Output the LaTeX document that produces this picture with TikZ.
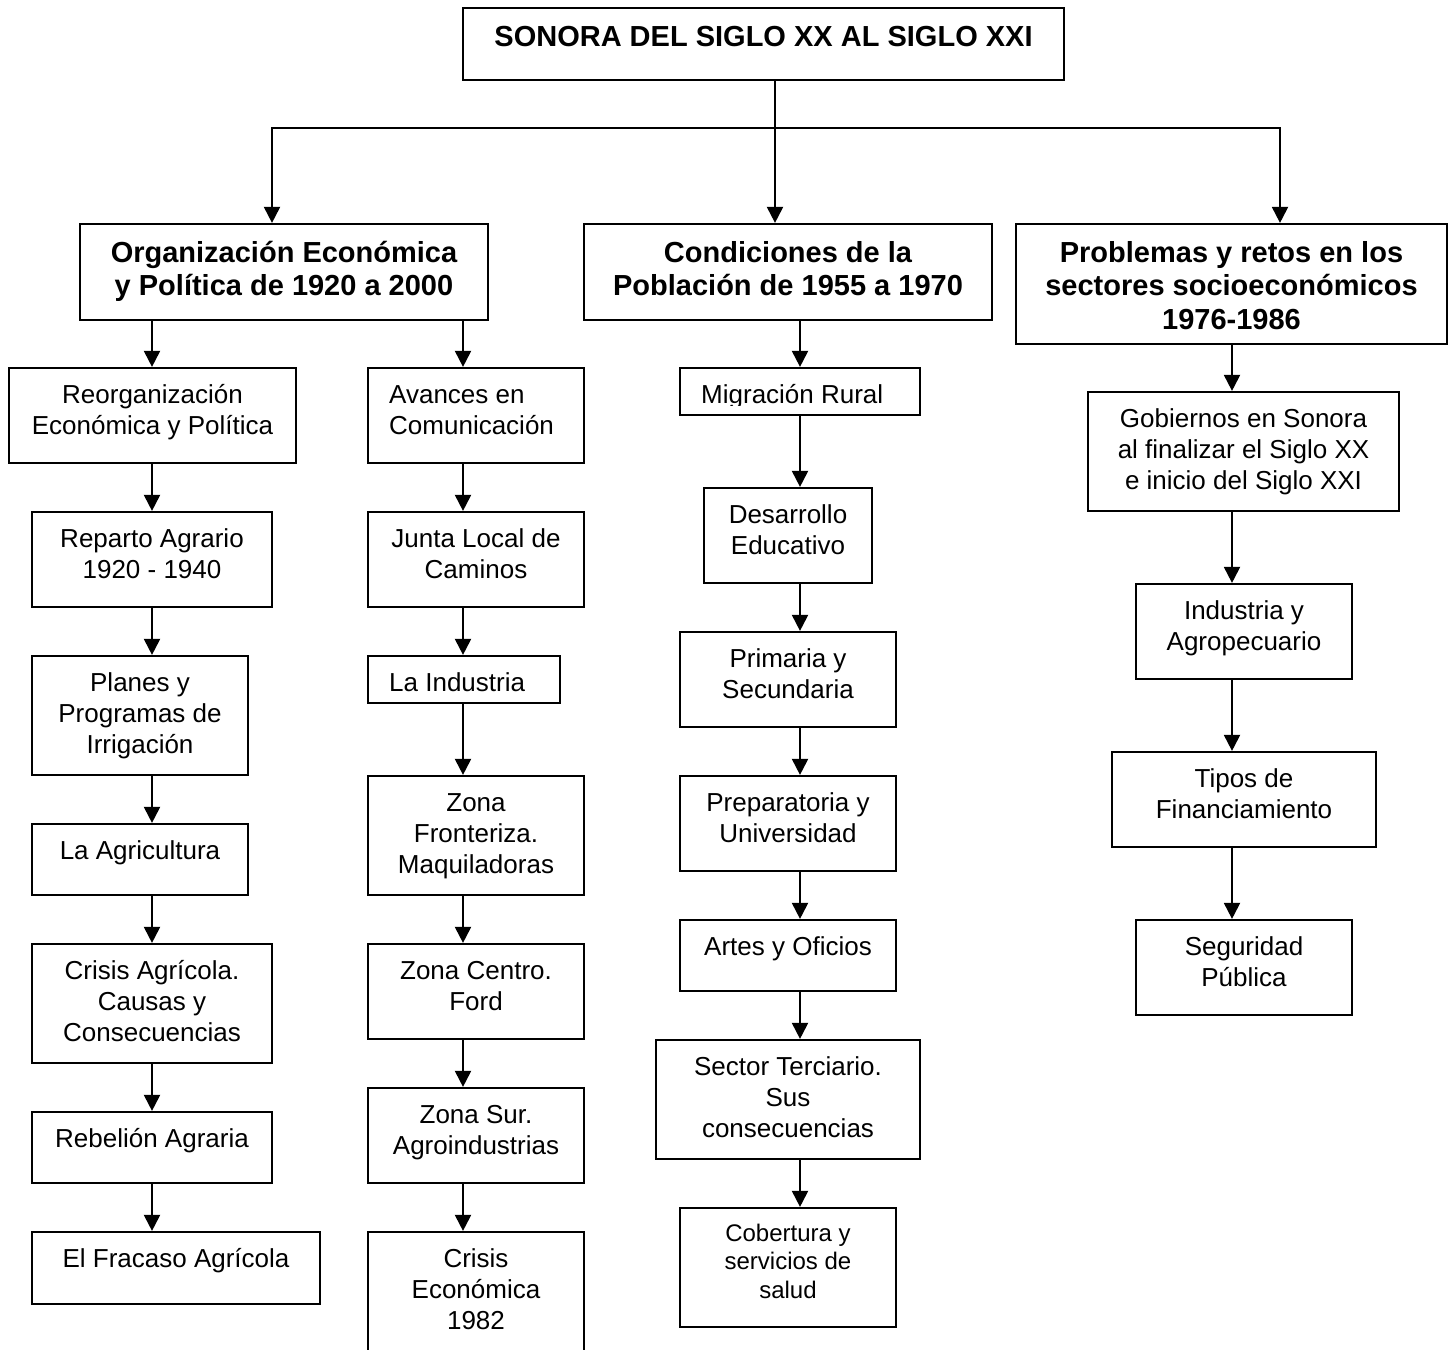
\documentclass[tikz,border=0pt]{standalone}
\usepackage{fontspec}
\setmainfont{Liberation Sans}
\usetikzlibrary{arrows.meta,fit}
\tikzset{
  boxst/.style={draw, line width=2.2pt, inner sep=0pt},
  rtext/.style={font=\fontsize{26}{31}\selectfont, align=center, inner sep=0pt},
  ltext/.style={font=\fontsize{26}{31}\selectfont, align=left, inner sep=0pt},
  btext/.style={font=\fontsize{29}{33.5}\selectfont\bfseries, align=center, inner sep=0pt},
  stext/.style={font=\fontsize{24}{28.5}\selectfont, align=center, inner sep=0pt},
  line/.style={line width=2pt},
  arr/.style={line width=2pt, -{Triangle[width=16pt,length=16pt]}},
}
% generic box: style, strut height, name, x1, y1, x2, y2, text
\newcommand\gbox[8]{%
  \node[boxst, fit={(#4,#5) (#6,#7)}] (#3) {};
  \node[#1, anchor=north] (#3-t) at ({(#4+#6)/2},#5+11) {\rule{0pt}{#2}#8};}
\newcommand\gboxl[6]{%
  \node[boxst, fit={(#2,#3) (#4,#5)}] (#1) {};
  \node[ltext, anchor=north west] (#1-t) at (#2+21,#3+11) {\rule{0pt}{24pt}#6};}
\newcommand\myrbox{\gbox{rtext}{24pt}}
\newcommand\mybbox{\gbox{btext}{27pt}}
\newcommand\mysbox{\gbox{stext}{22pt}}
\begin{document}
\begin{tikzpicture}[x=1pt,y=-1pt]
\clip (0,0) rectangle (1455,1349);
\fill[white] (0,0) rectangle (1455,1349);

% title
\node[boxst, fit={(463,8) (1064,80)}] (title) {};
\node[btext, anchor=north] (title-t) at (763.5,19) {\rule{0pt}{27pt}SONORA DEL SIGLO XX AL SIGLO XXI};

% level 2
\mybbox{A}{80}{224}{488}{320}{Organización Económica\\y Política de 1920 a 2000}
\mybbox{B}{584}{224}{992}{320}{Condiciones de la\\Población de 1955 a 1970}
\mybbox{C}{1016}{224}{1447}{344}{Problemas y retos en los\\sectores socioeconómicos\\1976-1986}

% column 1
\myrbox{l1}{9}{368}{296}{463}{Reorganización\\Económica y Política}
\myrbox{l2}{32}{512}{272}{607}{Reparto Agrario\\1920 - 1940}
\myrbox{l3}{32}{656}{248}{775}{Planes y\\Programas de\\Irrigación}
\myrbox{l4}{32}{824}{248}{895}{La Agricultura}
\myrbox{l5}{32}{944}{272}{1063}{Crisis Agrícola.\\Causas y\\Consecuencias}
\myrbox{l6}{32}{1112}{272}{1183}{Rebelión Agraria}
\myrbox{l7}{32}{1232}{320}{1304}{El Fracaso Agrícola}

% column 2
\gboxl{m1}{368}{368}{584}{463}{Avances en\\Comunicación}
\myrbox{m2}{368}{512}{584}{607}{Junta Local de\\Caminos}
\gboxl{m3}{368}{656}{560}{703}{La Industria}
\myrbox{m4}{368}{776}{584}{895}{Zona\\Fronteriza.\\Maquiladoras}
\myrbox{m5}{368}{944}{584}{1039}{Zona Centro.\\Ford}
\myrbox{m6}{368}{1088}{584}{1183}{Zona Sur.\\Agroindustrias}
\myrbox{m7}{368}{1232}{584}{1380}{Crisis\\Económica\\1982}

% column 3
\node[boxst, fit={(680,368) (920,415)}] (r1) {};
\begin{scope}
\clip (680,368) rectangle (920,405.5);
\node[ltext, anchor=north west] (r1-t) at (701,379) {\rule{0pt}{24pt}Migración Rural};
\end{scope}
\myrbox{r2}{704}{488}{872}{583}{Desarrollo\\Educativo}
\myrbox{r3}{680}{632}{896}{727}{Primaria y\\Secundaria}
\myrbox{r4}{680}{776}{896}{871}{Preparatoria y\\Universidad}
\myrbox{r5}{680}{920}{896}{991}{Artes y Oficios}
\myrbox{r6}{656}{1040}{920}{1159}{Sector Terciario.\\Sus\\consecuencias}
\mysbox{r7}{680}{1208}{896}{1327}{Cobertura y\\servicios de\\salud}

% column 4
\myrbox{s1}{1088}{392}{1399}{511}{Gobiernos en Sonora\\al finalizar el Siglo XX\\e inicio del Siglo XXI}
\myrbox{s2}{1136}{584}{1352}{679}{Industria y\\Agropecuario}
\myrbox{s3}{1112}{752}{1376}{847}{Tipos de\\Financiamiento}
\myrbox{s4}{1136}{920}{1352}{1015}{Seguridad\\Pública}

% connectors from title
\coordinate (h1) at (272,128);
\coordinate (h2) at (775,128);
\coordinate (h3) at (1280,128);
\draw[line] (title.south -| h2) -- (h2);
\draw[line, line cap=rect] (h1) -- (h3);
\draw[arr] (h1) -- (h1 |- A.north);
\draw[arr] (h2) -- (h2 |- B.north);
\draw[arr] (h3) -- (h3 |- C.north);

% column x positions
\coordinate (c1) at (152,0);
\coordinate (c2) at (463,0);
\coordinate (c3) at (800,0);
\coordinate (c4) at (1232,0);

\draw[arr] (A.south -| c1) -- (l1.north -| c1);
\draw[arr] (l1.south -| c1) -- (l2.north -| c1);
\draw[arr] (l2.south -| c1) -- (l3.north -| c1);
\draw[arr] (l3.south -| c1) -- (l4.north -| c1);
\draw[arr] (l4.south -| c1) -- (l5.north -| c1);
\draw[arr] (l5.south -| c1) -- (l6.north -| c1);
\draw[arr] (l6.south -| c1) -- (l7.north -| c1);

\draw[arr] (A.south -| c2) -- (m1.north -| c2);
\draw[arr] (m1.south -| c2) -- (m2.north -| c2);
\draw[arr] (m2.south -| c2) -- (m3.north -| c2);
\draw[arr] (m3.south -| c2) -- (m4.north -| c2);
\draw[arr] (m4.south -| c2) -- (m5.north -| c2);
\draw[arr] (m5.south -| c2) -- (m6.north -| c2);
\draw[arr] (m6.south -| c2) -- (m7.north -| c2);

\draw[arr] (B.south -| c3) -- (r1.north -| c3);
\draw[arr] (r1.south -| c3) -- (r2.north -| c3);
\draw[arr] (r2.south -| c3) -- (r3.north -| c3);
\draw[arr] (r3.south -| c3) -- (r4.north -| c3);
\draw[arr] (r4.south -| c3) -- (r5.north -| c3);
\draw[arr] (r5.south -| c3) -- (r6.north -| c3);
\draw[arr] (r6.south -| c3) -- (r7.north -| c3);

\draw[arr] (C.south -| c4) -- (s1.north -| c4);
\draw[arr] (s1.south -| c4) -- (s2.north -| c4);
\draw[arr] (s2.south -| c4) -- (s3.north -| c4);
\draw[arr] (s3.south -| c4) -- (s4.north -| c4);
\end{tikzpicture}
\end{document}
